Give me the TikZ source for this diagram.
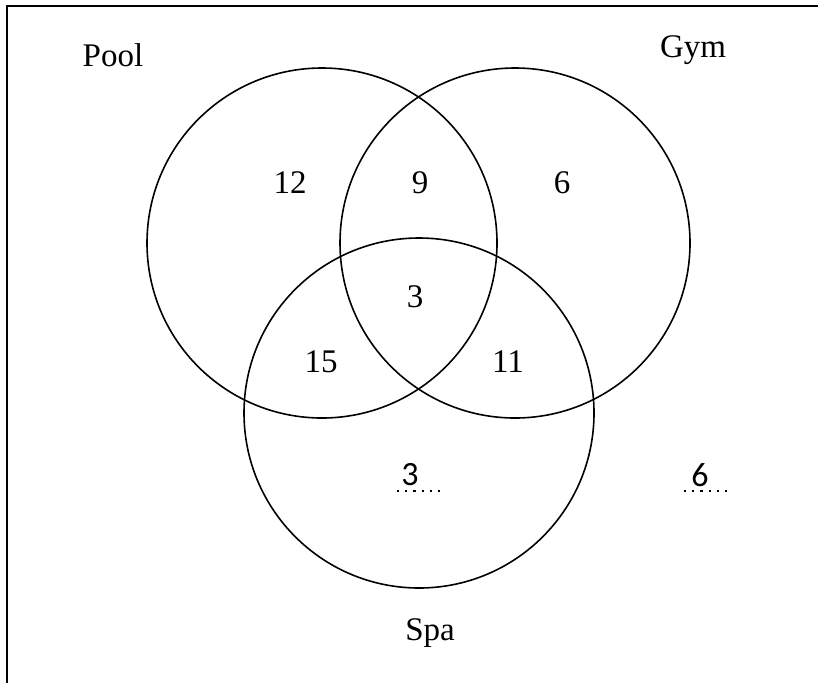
\documentclass[tikz,border=0pt]{standalone}
\usepackage{fontspec}
\setmainfont{Liberation Serif}
\newfontfamily\numfont{Carlito}

\begin{document}
\begin{tikzpicture}
  [x=1pt,y=-1pt,every node/.style={font=\fontsize{33}{36}\selectfont},
   setcircle/.style={circle, draw, line width=1.6pt, minimum size=350pt, inner sep=0pt},
   gapnum/.style={font=\numfont\fontsize{34}{36}\selectfont},
   blank/.style={line width=2.2pt, dash pattern=on 2.2pt off 6pt}]
  \useasboundingbox (0,0) rectangle (818,683);
  \draw[line width=2.6pt] (7,683) -- (7,6) -- (818,6);
  % the three sets
  \node[setcircle] (pool) at (322,243) {};
  \node[setcircle] (gym) at (515,243) {};
  \node[setcircle] (spa) at (419,413) {};
  \node (poolname) at (113,55) {Pool};
  \node (gymname) at (693,50) {Gym};
  \node (spaname) at (430,633) {Spa};
  % region counts
  \node (onlypool) at (290,183) {12};
  \node (poolgym) at (420,183) {9};
  \node (onlygym) at (562,183) {6};
  \node (all) at (415,297) {3};
  \node (poolspa) at (321,362) {15};
  \node (gymspa) at (508,362) {11};
  \node[gapnum] (onlyspa) at (410,475) {3};
  \node[gapnum] (none) at (700,475) {6};
  \coordinate (a1) at (397,491);
  \coordinate (a2) at (440,491);
  \coordinate (b1) at (684,491);
  \coordinate (b2) at (728,491);
  \draw[blank] (a1) -- (a2);
  \draw[blank] (b1) -- (b2);
\end{tikzpicture}
\end{document}
